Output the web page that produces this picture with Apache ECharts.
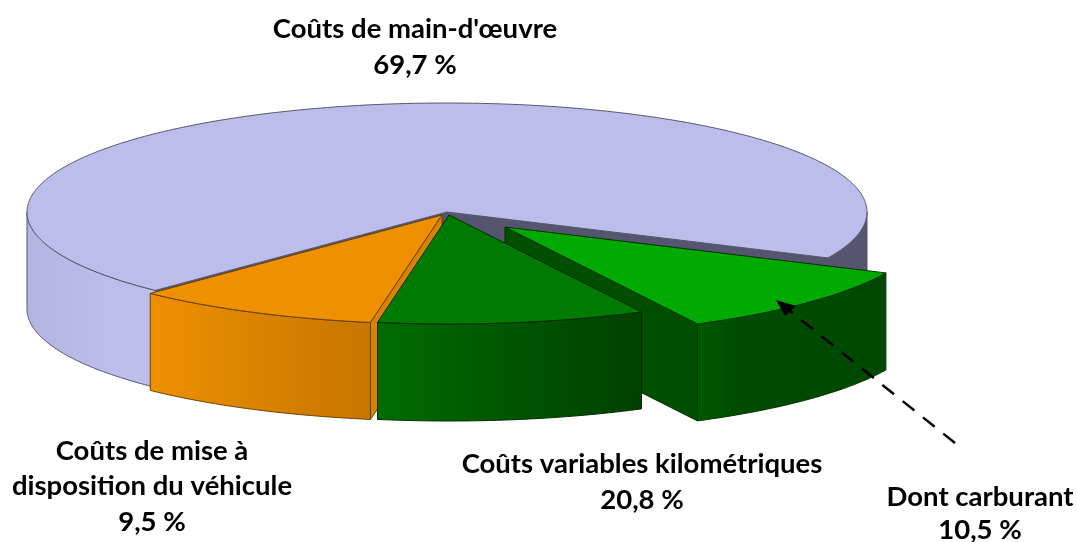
<!DOCTYPE html>
<html>
<head>
<meta charset="utf-8">
<title>Structure des coûts</title>
<script src="https://cdn.jsdelivr.net/npm/echarts@6/dist/echarts.min.js"></script>
<style>
html, body {margin: 0; padding: 0; background: #fff;}
#main {width: 1077px; height: 542px;}
</style>
</head>
<body>
<div id="main"></div>
<script>
// parts du camembert, dans le sens des aiguilles
var sliceNames = ["Coûts de main-d'œuvre", 'Dont carburant', 'Autres coûts kilométriques', 'Coûts de mise à disposition du véhicule'];
var sliceShares = [69.7, 10.5, 10.3, 9.5];

// etiquettes
var labelLines = [
    ["Coûts de main-d'œuvre"],
    ['Coûts de mise à', 'disposition du véhicule'],
    ['Coûts variables kilométriques'],
    ['Dont carburant']
];
var labelValues = [69.7, 9.5, 20.8, 10.5];

// geometrie du disque
var cx = 447, cy = 212, rx = 420, ry = 109, depth = 97;
var startAngle = 134;

var lavender = '#bdbdec', slate = '#55556f';
function wallGrad(x0, x1, stops) {
    return new echarts.graphic.LinearGradient(x0, 0, x1, 0, stops, true);
}
// style par part : decalage, couleurs, ordre de dessin
var sliceStyles = [
    {dx: 0, dy: 0, top: lavender, line: '#55556a', cut: slate, z: 1,
        wall: wallGrad(27, 867, [{offset: 0, color: '#b4b4e0'}, {offset: 0.1, color: lavender}, {offset: 0.5, color: lavender}, {offset: 0.5, color: slate}, {offset: 1, color: slate}])},
    {dx: 58, dy: 15, top: '#00aa00', line: '#003300', cut: '#004f00', z: 2,
        wall: wallGrad(699, 883, [{offset: 0, color: '#005800'}, {offset: 0.2, color: '#004c00'}, {offset: 1, color: '#004800'}])},
    {dx: 2, dy: 3, top: '#007a00', line: '#002c00', cut: '#005500', z: 4,
        wall: wallGrad(376, 645, [{offset: 0, color: '#006c00'}, {offset: 1, color: '#003f00'}])},
    {dx: -5, dy: 3, top: '#ee9000', line: '#6a4200', cut: '#d98300', z: 3,
        wall: wallGrad(152, 372, [{offset: 0, color: '#ee9000'}, {offset: 1, color: '#c67500'}])}
];

function ellipsePoint(x0, y0, deg) {
    var a = deg * Math.PI / 180;
    return [x0 + rx * Math.cos(a), y0 + ry * Math.sin(a)];
}
function arcPoints(x0, y0, a1, a2) {
    var pts = [];
    var n = Math.max(2, Math.ceil((a2 - a1) * 2));
    for (var i = 0; i <= n; i++) {
        pts.push(ellipsePoint(x0, y0, a1 + (a2 - a1) * i / n));
    }
    return pts;
}
function poly(points, fill, stroke, z) {
    return {
        type: 'polygon',
        z2: z,
        shape: {points: points},
        style: {fill: fill, stroke: stroke, lineWidth: 1, lineJoin: 'round'}
    };
}

function renderSlice(params, api) {
    var idx = params.dataIndex;
    var st = sliceStyles[idx];
    var before = 0;
    for (var i = 0; i < idx; i++) before += sliceShares[i];
    var a1 = startAngle + before * 3.6;
    var a2 = a1 + api.value(0) * 3.6;
    var x0 = cx + st.dx, y0 = cy + st.dy;
    var kids = [];

    // faces de coupe tournees vers nous
    [a1, a2].forEach(function (a, k) {
        var rad = a * Math.PI / 180;
        var facing = k === 0 ? -Math.cos(rad) > 0 : Math.cos(rad) > 0;
        if (!facing) return;
        var p = ellipsePoint(x0, y0, a);
        kids.push(poly([[x0, y0], p, [p[0], p[1] + depth], [x0, y0 + depth]], st.cut, st.line, st.z));
    });

    // paroi exterieure : seulement la moitie avant de l'ellipse
    for (var k = 0; k < 2; k++) {
        var from = Math.max(a1, 360 * k), to = Math.min(a2, 360 * k + 180);
        if (to <= from) continue;
        var arc = arcPoints(x0, y0, from, to);
        var low = arc.map(function (p) { return [p[0], p[1] + depth]; }).reverse();
        kids.push(poly(arc.concat(low), st.wall, st.line, st.z));
    }

    // dessus
    var topPts = [[x0, y0]].concat(arcPoints(x0, y0, a1, a2));
    kids.push(poly(topPts, st.top, st.line, st.z));

    return {type: 'group', children: kids};
}

function labelText(i) {
    return labelLines[i].concat([String(labelValues[i]).replace('.', ',') + ' %']);
}
function labelGraphic(i, x, ys) {
    return labelText(i).map(function (t, n) {
        return {
            type: 'text', x: x, y: ys[n], z: 10,
            style: {text: t, align: 'center', verticalAlign: 'middle', fill: '#000',
                font: 'bold 27.5px Lato, "Open Sans", sans-serif'}
        };
    });
}

var chart = echarts.init(document.getElementById('main'));
var option = {
    animation: false,
    backgroundColor: '#fff',
    graphic: {
        elements: [].concat(
            labelGraphic(0, 415, [29, 65]),
            labelGraphic(1, 152, [451, 486, 522]),
            labelGraphic(2, 642, [464, 500]),
            labelGraphic(3, 980, [497, 530]),
            [
                // fleche pointillee vers le carburant
                {type: 'line', z: 9, shape: {x1: 955, y1: 443, x2: 790, y2: 311},
                    style: {stroke: '#000', lineWidth: 2.5, lineDash: [15, 11]}},
                {type: 'polygon', z: 9, shape: {points: [[776, 300], [796, 306], [785, 316]]},
                    style: {fill: '#000'}}
            ]
        )
    },
    series: [{
        type: 'custom',
        coordinateSystem: 'none',
        renderItem: renderSlice,
        data: sliceShares.map(function (v, i) { return {name: sliceNames[i], value: [v]}; })
    }]
};
chart.setOption(option);
</script>
</body>
</html>
